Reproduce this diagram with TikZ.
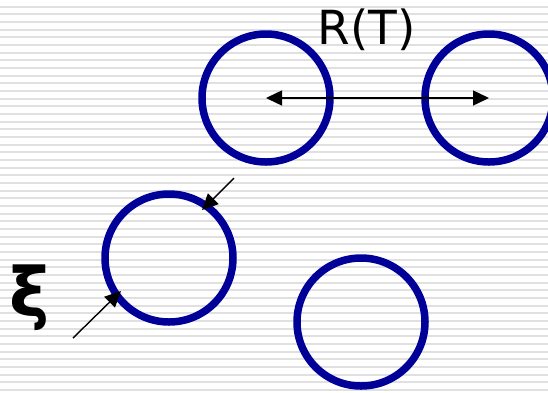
\documentclass[tikz,border=0pt]{standalone}
\usepackage{fontspec}
\setmainfont{DejaVu Sans}
\usetikzlibrary{arrows.meta}
\definecolor{ringblue}{RGB}{0,0,153}
\definecolor{stripe}{RGB}{224,224,224}
\begin{document}
\begin{tikzpicture}[x=1pt,y=-1pt,
  ring/.style={circle,draw=ringblue,line width=7.5pt,minimum size=128pt,inner sep=0pt},
  dimarrow/.style={line width=1.4pt,-{Triangle[length=16pt,width=15pt]}},
  label/.style={font=\fontsize{47}{52}\selectfont,inner sep=0pt}]
\useasboundingbox (0,0) rectangle (548,392);
\fill[white] (0,0) rectangle (548,392);
\foreach \i in {0,...,51} {
  \fill[stripe] (0,{5.5+7.67*\i}) rectangle (548,{7.5+7.67*\i});
}
\node[ring] (a) at (266,98) {};
\node[ring] (b) at (489,98) {};
\node[ring] (c) at (169,258) {};
\node[ring] (d) at (361,322) {};
\draw[line width=1.4pt,{Triangle[length=16pt,width=15pt]}-{Triangle[length=16pt,width=15pt]}] (a.center) -- (b.center);
\node[label,anchor=base] (rt) at (367,44) {R(T)};
\coordinate (u0) at (234,178);
\coordinate (u1) at (202,210);
\coordinate (l0) at (73,338);
\coordinate (l1) at (121,291);
\draw[dimarrow] (u0) -- (u1);
\draw[dimarrow] (l0) -- (l1);
\node[font=\fontsize{68}{74}\selectfont\bfseries,inner sep=0pt] (xi) at (30,298) {ξ};
\end{tikzpicture}
\end{document}
